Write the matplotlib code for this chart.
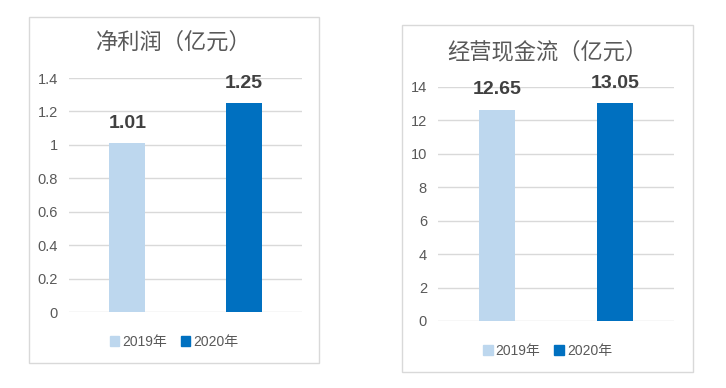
import matplotlib
matplotlib.use("Agg")
import matplotlib.pyplot as plt
from matplotlib.patches import Rectangle, Patch

plt.rcParams['font.family'] = ['Liberation Sans', 'Noto Sans CJK SC', 'DejaVu Sans']

# data
years = ["2019年", "2020年"]
net_profit = [1.01, 1.25]
op_cashflow = [12.65, 13.05]
colors = ["#BDD7EE", "#0070C0"]

W, H = 726, 388
fig = plt.figure(figsize=(W / 100, H / 100), dpi=100)


def px_box(x0, y0, x1, y1):
    # pixel box (top-left origin) -> figure fraction [left, bottom, width, height]
    return [x0 / W, 1 - y1 / H, (x1 - x0) / W, (y1 - y0) / H]


def panel(frame, plot, title, title_y, values, yticks, ylim, legend_y):
    fx = px_box(*frame)
    fig.patches.append(Rectangle((fx[0], fx[1]), fx[2], fx[3], transform=fig.transFigure,
                                 fill=False, edgecolor="#D9D9D9", linewidth=1.0))
    ax = fig.add_axes(px_box(*plot))
    ax.bar(range(len(values)), values, width=0.31, color=colors, zorder=3)
    ax.set_xlim(-0.5, len(values) - 0.5)
    ax.set_ylim(*ylim)
    ax.set_yticks(yticks)
    ax.set_yticklabels([f"{t:g}" for t in yticks])
    ax.set_xticks([])
    ax.grid(axis="y", color="#D9D9D9", linewidth=1.0, zorder=0)
    for s in ax.spines.values():
        s.set_visible(False)
    ax.tick_params(axis="y", length=0, labelsize=10.5, labelcolor="#595959", pad=8)
    for i, v in enumerate(values):
        ax.annotate(f"{v:.2f}", (i, v), xytext=(0, 8), textcoords="offset points",
                    ha="center", va="bottom", fontsize=14, fontweight="bold", color="#404040")
    cx = (frame[0] + frame[2]) / 2 / W
    fig.text(cx, 1 - title_y / H, title, ha="center", va="center",
             fontsize=16, color="#595959")
    handles = [Patch(color=c, label=l) for c, l in zip(colors, years)]
    fig.legend(handles=handles, loc="center", bbox_to_anchor=(cx, 1 - legend_y / H),
               ncol=2, frameon=False, fontsize=10, labelcolor="#595959",
               handlelength=0.7, handleheight=0.7, handletextpad=0.2, columnspacing=1.0)
    return ax


panel((29, 17, 319, 363), (69, 78, 302, 312), "净利润（亿元）", 43,
      net_profit, [0, 0.2, 0.4, 0.6, 0.8, 1.0, 1.2, 1.4], (0, 1.4), 342)

panel((402, 25, 693, 372), (438, 87, 674, 321), "经营现金流（亿元）", 53,
      op_cashflow, list(range(0, 15, 2)), (0, 14), 351)

fig.savefig("out.png", dpi=100)
